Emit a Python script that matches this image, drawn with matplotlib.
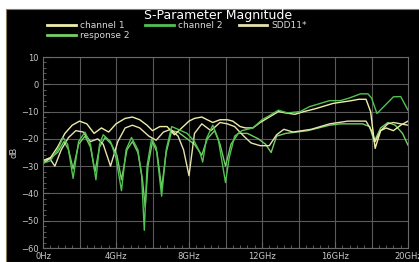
import matplotlib
matplotlib.use('Agg')
import matplotlib.pyplot as plt
from matplotlib.patches import Rectangle
from matplotlib.ticker import MultipleLocator, FixedLocator

# frequencies in GHz, magnitude in dB
ch1_f = [0, 0.4, 0.8, 1.2, 1.6, 2.0, 2.4, 2.8, 3.2, 3.6, 4.0, 4.5, 4.9, 5.3, 5.7, 6.0, 6.4,
         6.8, 7.2, 7.6, 8.0, 8.3, 8.7, 9.0, 9.3, 9.7, 10.1, 10.4, 10.8, 11.1, 11.5, 11.9,
         12.4, 12.9, 13.3, 13.8, 14.3, 14.9, 15.4, 15.9, 16.4, 16.9, 17.3, 17.7, 17.95,
         18.2, 18.5, 18.8, 19.2, 19.6, 20.0]
ch1_db = [-29, -27, -23, -18, -15, -13.5, -14.5, -18, -16, -17.5, -14.5, -12.5, -12, -13,
          -15, -17, -15.5, -15.5, -18.5, -16, -13.5, -12.5, -12, -13, -14, -13, -13, -13.5,
          -15.5, -16, -16, -14, -12, -10, -10.5, -11, -10, -9, -8, -7, -6.5, -6, -5.5, -5.5,
          -10, -23.5, -17, -16, -17, -15, -13.5]

ch2_f = [0, 0.4, 0.8, 1.1, 1.35, 1.65, 1.95, 2.3, 2.6, 2.9, 3.1, 3.3, 3.7, 4.0, 4.3, 4.55,
         4.85, 5.2, 5.4, 5.55, 5.7, 5.95, 6.2, 6.5, 6.75, 7.05, 7.4, 7.9, 8.3, 8.6, 8.75,
         8.95, 9.3, 9.6, 9.85, 10.0, 10.2, 10.5, 10.9, 11.5, 12.0, 12.4, 12.9, 13.4, 14.1,
         14.6, 15.2, 15.7, 16.3, 16.8, 17.4, 17.8, 18.0, 18.3, 18.7, 19.2, 19.6, 20.0]
ch2_db = [-29, -28, -24, -19.5, -22, -34.5, -21, -17.5, -22, -35, -22, -18.5, -21, -27, -39,
          -24, -19.5, -24, -33, -53.5, -30, -20, -23, -41, -24, -15.5, -16.5, -18, -21, -25,
          -28.5, -20, -15, -20, -30, -36, -27, -19, -17, -16, -13, -11.5, -9.5, -10.5, -10,
          -8.2, -7, -6, -6, -5, -3.5, -3.5, -5, -10.7, -8, -4.6, -4.5, -9.5]

sdd_f = [0, 0.35, 0.65, 1.0, 1.4, 1.8, 2.2, 2.6, 3.0, 3.3, 3.7, 4.1, 4.5, 4.9, 5.3, 5.8,
         6.2, 6.6, 7.0, 7.4, 7.7, 8.0, 8.3, 8.7, 9.2, 9.7, 10.1, 10.5, 11.0, 11.4, 11.9,
         12.4, 12.8, 13.2, 13.7, 14.2, 14.7, 15.2, 15.7, 16.2, 16.7, 17.2, 17.7, 18.0, 18.2,
         18.5, 18.9, 19.2, 19.6, 20.0]
sdd_db = [-28, -27, -30, -24, -19.5, -17, -17.5, -21, -20, -22, -30, -21, -16, -15, -16,
          -19, -20.5, -17.5, -16.5, -19, -24, -33.5, -18, -14.5, -17, -14, -14.5, -15.5,
          -19, -21.5, -22.5, -22.5, -18.5, -16.5, -17.5, -17, -16.5, -15.5, -14.5, -14,
          -13.5, -13.5, -13.5, -17, -21, -17, -14.5, -14, -14.5, -15]

resp2_f = [0, 0.4, 0.8, 1.15, 1.4, 1.65, 1.95, 2.3, 2.6, 2.85, 3.1, 3.4, 3.75, 4.05, 4.3,
           4.6, 4.9, 5.2, 5.45, 5.6, 5.75, 6.0, 6.25, 6.5, 6.75, 7.05, 7.4, 7.9, 8.3, 8.7,
           9.0, 9.4, 9.7, 10.0, 10.3, 10.7, 11.2, 11.8, 12.2, 12.5, 12.8, 13.3, 13.9, 14.5,
           15.1, 15.7, 16.3, 16.9, 17.5, 17.9, 18.15, 18.5, 18.9, 19.3, 19.7, 20.0]
resp2_db = [-28, -27, -25, -21, -24, -31, -22, -19, -23, -32, -23, -19.5, -22, -26, -35,
            -24, -21, -25, -35, -45, -30, -21, -25, -38, -25, -17, -17.5, -20, -22, -26,
            -20, -17, -22, -30, -22, -18, -18, -20, -22, -25, -19, -18, -17.5, -17, -16,
            -15, -14.5, -14.5, -14.5, -15.5, -21, -16, -14, -15, -18, -22.3]

x_ticks = [0, 4, 8, 12, 16, 20]
x_labels = ['0Hz', '4GHz', '8GHz', '12GHz', '16GHz', '20GHz']
y_ticks = [10, 0, -10, -20, -30, -40, -50, -60]

fig = plt.figure(figsize=(4.19, 2.62), dpi=100)
fig.patch.set_facecolor('white')
fig.patches.append(Rectangle((6 / 419, 0), 1, (262 - 9) / 262, transform=fig.transFigure,
                             facecolor='black', edgecolor='#8a7a60', linewidth=0.8,
                             zorder=-10))

ax = fig.add_axes([43 / 419, 14 / 262, 365 / 419, 191 / 262])
ax.set_facecolor('black')

ax.plot(resp2_f, resp2_db, color='#74d064', lw=1.0, label='response 2')
ax.plot(sdd_f, sdd_db, color='#e6e2b0', lw=1.0, label='SDD11*')
ax.plot(ch1_f, ch1_db, color='#efefa8', lw=1.0, label='channel 1')
ax.plot(ch2_f, ch2_db, color='#52c252', lw=1.0, label='channel 2')

ax.set_xlim(0, 20)
ax.set_ylim(-60, 10)
ax.xaxis.set_major_locator(FixedLocator(x_ticks))
ax.set_xticklabels(x_labels)
ax.xaxis.set_minor_locator(MultipleLocator(0.4))
ax.yaxis.set_major_locator(FixedLocator(y_ticks))
ax.yaxis.set_minor_locator(MultipleLocator(2))

for x in range(2, 20, 2):
    ax.axvline(x, color='#5a5a5a', lw=0.8, zorder=0)
ax.grid(True, axis='y', color='#5a5a5a', lw=0.8)
ax.set_axisbelow(True)

for s in ax.spines.values():
    s.set_color('#6a6a6a')
    s.set_linewidth(0.8)
ax.tick_params(axis='both', which='both', direction='in', colors='#6a6a6a',
               labelcolor='#c8c8c8', labelsize=6, pad=3)
ax.tick_params(which='major', length=4)
ax.tick_params(which='minor', length=2.5)

ax.set_ylabel('dB', color='#c8c8c8', fontsize=6, labelpad=2)

fig.text(218 / 419, 1 - 15 / 262, 'S-Parameter Magnitude', color='white', fontsize=9,
         ha='center', va='center')

h = {l.get_label(): l for l in ax.get_lines()}
order = ['channel 1', 'response 2', 'channel 2', 'SDD11*']
leg = fig.legend([h[k] for k in order], order, loc='upper left',
                 bbox_to_anchor=(47 / 419, 1 - 21 / 262), ncol=3, frameon=False,
                 fontsize=6.5, handlelength=3.2, handletextpad=0.4, columnspacing=1.8,
                 labelspacing=0.15, borderpad=0, borderaxespad=0)
for t in leg.get_texts():
    t.set_color('#d8d8d8')
for l in leg.get_lines():
    l.set_linewidth(2)

fig.savefig('out.png', dpi=100, facecolor=fig.get_facecolor())
plt.close(fig)
